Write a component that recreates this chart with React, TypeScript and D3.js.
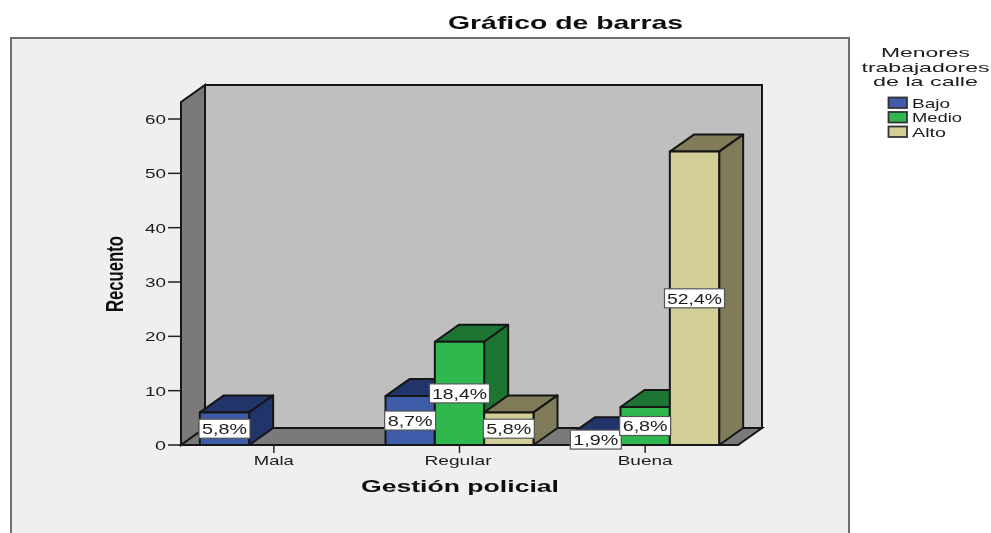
import React from "react";
import * as d3 from "d3";

const categories = ["Mala", "Regular", "Buena"];
const seriesNames = ["Bajo", "Medio", "Alto"];
const bajo = [6, 9, 2];
const medio = [0, 19, 7];
const alto = [0, 6, 54];
const bajoPct = ["5,8%", "8,7%", "1,9%"];
const medioPct = ["", "18,4%", "6,8%"];
const altoPct = ["", "5,8%", "52,4%"];
const yTicks = [0, 10, 20, 30, 40, 50, 60];
const legendTitle = ["Menores", "trabajadores", "de la calle"];
const titleText = "Gráfico de barras";
const xTitle = "Gestión policial";
const yTitle = "Recuento";

const front = ["#3E5BAA", "#2DB84D", "#D3CE97"];
const shade = ["#22356B", "#1E7430", "#807C5A"];
const font = "'Liberation Sans', Arial, sans-serif";
const ink = "#1c1c1c";

const dx = 24;
const dy = -17;
const x0 = d3.scaleBand<string>().domain(categories).range([181, 738]);
const y = d3.scaleLinear().domain([0, 60]).range([445, 119]);
const x1 = d3.scaleBand<string>().domain(seriesNames).range([-74, 74]);

const poly = (pts: [number, number][]) => {
  const p = d3.path();
  pts.forEach(([a, b], i) => (i ? p.lineTo(a, b) : p.moveTo(a, b)));
  p.closePath();
  return p.toString();
};

const perChar = (s: string, k: number) => s.length * k;

function T(props: any) {
  const { w, children, ...rest } = props;
  return (
    <text fontFamily={font} textLength={w} lengthAdjust="spacingAndGlyphs" {...rest}>
      {children}
    </text>
  );
}

const labelW: Record<string, number> = { short: 45, long: 55 };

export default function App() {
  const base = y(0);
  const series = [bajo, medio, alto];
  const pcts = [bajoPct, medioPct, altoPct];
  const wallTopFront = 102;
  const xL = 181;
  const xR = 738;
  const sw = 2;
  const bars: any[] = [];
  categories.forEach((c, ci) => {
    seriesNames.forEach((s, si) => {
      const v = series[si][ci];
      if (!v) return;
      const l = (x0(c) as number) + x0.bandwidth() / 2 + (x1(s) as number);
      const r = l + x1.bandwidth();
      bars.push({ key: c + s, l, r, t: y(v), si, pct: pcts[si][ci] });
    });
  });
  return (
    <svg
      width={991}
      height={533}
      style={{ position: "fixed", left: 0, top: 0, background: "#fff" }}
    >
      <defs>
        <filter id="soft" x="-2%" y="-2%" width="104%" height="104%">
          <feGaussianBlur stdDeviation="0.5" />
        </filter>
      </defs>
      <g filter="url(#soft)">
        <T x={565.5} y={29} w={235} fontSize={19} fontWeight="bold" textAnchor="middle" fill="#111">
          {titleText}
        </T>
        <rect x={11} y={38} width={838} height={500} fill="#EFEFEF" stroke="#6E6E6E" strokeWidth={2} />

        {/* back wall, left wall, floor */}
        <path
          d={poly([[xL + dx, wallTopFront + dy], [xR + dx, wallTopFront + dy], [xR + dx, base + dy], [xL + dx, base + dy]])}
          fill="#BFBFBF"
          stroke="#151515"
          strokeWidth={sw}
        />
        <path
          d={poly([[xL, wallTopFront], [xL + dx, wallTopFront + dy], [xL + dx, base + dy], [xL, base]])}
          fill="#7A7A7A"
          stroke="#151515"
          strokeWidth={sw}
        />
        <path
          d={poly([[xL, base], [xL + dx, base + dy], [xR + dx, base + dy], [xR, base]])}
          fill="#7A7A7A"
          stroke="#151515"
          strokeWidth={sw}
        />

        {/* y axis */}
        {yTicks.map((t) => (
          <g key={t}>
            <line x1={168} x2={xL} y1={y(t)} y2={y(t)} stroke="#222" strokeWidth={1.5} />
            <T
              x={166}
              y={y(t) + 5}
              w={t === 0 ? 11 : 21}
              fontSize={13.5}
              textAnchor="end"
              fill={ink}
            >
              {t}
            </T>
          </g>
        ))}
        {/* x axis ticks and labels */}
        {categories.map((c) => {
          const cx = (x0(c) as number) + x0.bandwidth() / 2;
          return (
            <g key={c}>
              <line x1={cx} x2={cx} y1={base} y2={base + 8} stroke="#222" strokeWidth={1.5} />
              <T
                x={cx + (c === "Regular" ? -1.5 : 0)}
                y={465}
                w={perChar(c, c === "Mala" ? 10 : c === "Regular" ? 9.6 : 11)}
                fontSize={13.5}
                textAnchor="middle"
                fill={ink}
              >
                {c}
              </T>
            </g>
          );
        })}

        {/* bars */}
        {bars.map((b) => (
          <g key={b.key} stroke="#151515" strokeWidth={sw} strokeLinejoin="round">
            <path
              d={poly([[b.l, b.t], [b.l + dx, b.t + dy], [b.r + dx, b.t + dy], [b.r, b.t]])}
              fill={shade[b.si]}
            />
            <path
              d={poly([[b.r, b.t], [b.r + dx, b.t + dy], [b.r + dx, base + dy], [b.r, base]])}
              fill={shade[b.si]}
            />
            <rect x={b.l} y={b.t} width={b.r - b.l} height={base - b.t} fill={front[b.si]} />
          </g>
        ))}

        {/* value labels */}
        {bars.map((b) => {
          const cx = (b.l + b.r) / 2;
          const cy = (b.t + base) / 2;
          const long = b.pct.length > 4;
          const w = long ? 60 : 51;
          const tw = long ? labelW.long : labelW.short;
          return (
            <g key={"l" + b.key}>
              <rect
                x={cx - w / 2}
                y={cy - 9.5}
                width={w}
                height={19}
                fill="#fff"
                stroke="#555"
                strokeWidth={1.2}
              />
              <T x={cx} y={cy + 5.5} w={tw} fontSize={14.5} textAnchor="middle" fill={ink}>
                {b.pct}
              </T>
            </g>
          );
        })}

        {/* axis titles */}
        <T x={460} y={492} w={198} fontSize={17} fontWeight="bold" textAnchor="middle" fill="#111">
          {xTitle}
        </T>
        <T
          transform="translate(123,274) rotate(-90)"
          w={76}
          fontSize={23}
          fontWeight="bold"
          textAnchor="middle"
          fill="#111"
        >
          {yTitle}
        </T>

        {/* legend */}
        {legendTitle.map((line, i) => (
          <T
            key={line}
            x={925.5}
            y={57 + i * 14.5}
            w={[89, 128, 105][i]}
            fontSize={13}
            textAnchor="middle"
            fill={ink}
          >
            {line}
          </T>
        ))}
        {seriesNames.map((s, i) => (
          <g key={s}>
            <rect
              x={888.5}
              y={97.5 + i * 14.5}
              width={18.5}
              height={10.5}
              fill={front[i]}
              stroke="#333"
              strokeWidth={1.8}
            />
            <T x={912} y={107.5 + i * 14.5} w={[38, 50, 34][i]} fontSize={13} fill={ink}>
              {s}
            </T>
          </g>
        ))}
      </g>
    </svg>
  );
}
